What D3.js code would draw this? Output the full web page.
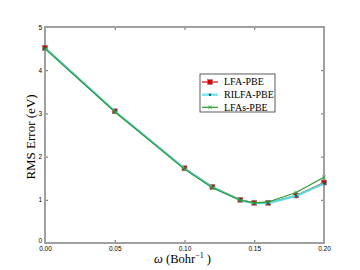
<!DOCTYPE html>
<html lang="en">
<head>
<meta charset="UTF-8">
<title>RMS Error</title>
<script src="https://cdnjs.cloudflare.com/ajax/libs/d3/7.8.5/d3.min.js"></script>
<style>
    body { margin: 0; background: #fff; }
    svg { display: block; font-family: "Liberation Serif", "DejaVu Serif", serif; }
</style>
</head>
<body>
<svg id="plot-svg"></svg>
<script>
// data
const omega = [0, 0.05, 0.10, 0.12, 0.14, 0.15, 0.16, 0.18, 0.20];
const lfa   = [4.52, 3.05, 1.73, 1.30, 1.00, 0.93, 0.93, 1.10, 1.40];
const rilfa = [4.51, 3.05, 1.72, 1.29, 0.99, 0.92, 0.92, 1.09, 1.38];
const lfas  = [4.50, 3.04, 1.71, 1.28, 0.99, 0.93, 0.95, 1.17, 1.52];
const xTicks = [0, 0.05, 0.10, 0.15, 0.20];
const yTicks = [0, 1, 2, 3, 4, 5];
const seriesNames = ["LFA-PBE", "RILFA-PBE", "LFAs-PBE"];

const W = 360, H = 270;
const margin = {left: 45, right: 36, top: 27, bottom: 27};
const width = W - margin.left - margin.right,
      height = H - margin.top - margin.bottom;

const svg = d3.select("#plot-svg").attr("width", W).attr("height", H);
const g = svg.append("g").attr("transform", `translate(${margin.left},${margin.top})`);

const x = d3.scaleLinear().domain([0, 0.2]).range([0, width]);
const y = d3.scaleLinear().domain([0, 5]).range([height, 0]);

// ticks pointing inwards on all four sides
const tickLen = 3;
g.append("g").attr("transform", `translate(0,${height})`)
    .call(d3.axisBottom(x).tickValues(xTicks).tickFormat(d3.format(".2f")).tickSize(-tickLen).tickPadding(3))
    .call(a => a.select(".domain").remove());
g.append("g")
    .call(d3.axisTop(x).tickValues(xTicks).tickFormat("").tickSize(-tickLen))
    .call(a => a.select(".domain").remove());
g.append("g").attr("class", "yaxis")
    .call(d3.axisLeft(y).tickValues(yTicks).tickFormat(d3.format("d")).tickSize(-tickLen).tickPadding(3))
    .call(a => a.select(".domain").remove());
g.append("g").attr("transform", `translate(${width},0)`)
    .call(d3.axisRight(y).tickValues(yTicks).tickFormat("").tickSize(-tickLen))
    .call(a => a.select(".domain").remove());
g.selectAll(".tick text").style("font-size", "6.5px").attr("fill", "#000");
g.selectAll(".tick line").attr("stroke", "#000").attr("stroke-width", 0.6);
// the "0" on y sits just above the "0.00" on x
g.selectAll(".yaxis .tick text").filter(d => d === 0).attr("dy", "-0.1em");

// frame
g.append("rect").attr("width", width).attr("height", height)
    .attr("fill", "none").attr("stroke", "#a0a0a0").attr("stroke-width", 2);

const line = d3.line().x((d, i) => x(omega[i])).y(d => y(d));

// LFA-PBE: red with squares
g.append("path").datum(lfa).attr("d", line)
    .attr("fill", "none").attr("stroke", "#e00000").attr("stroke-width", 1.2);
g.selectAll(".sq").data(lfa).enter().append("rect")
    .attr("x", (d, i) => x(omega[i]) - 2.5).attr("y", d => y(d) - 2.5)
    .attr("width", 5).attr("height", 5)
    .attr("fill", "#cc0000").attr("stroke", "#888").attr("stroke-width", 0.6);

// RILFA-PBE: thick cyan with dots
g.append("path").datum(rilfa).attr("d", line)
    .attr("fill", "none").attr("stroke", "#5fd8dc").attr("stroke-width", 2.2);
g.selectAll(".dot").data(rilfa).enter().append("circle")
    .attr("cx", (d, i) => x(omega[i])).attr("cy", d => y(d)).attr("r", 1.2)
    .attr("fill", "#1a5a5a");

// LFAs-PBE: green with x markers
g.append("path").datum(lfas).attr("d", line)
    .attr("fill", "none").attr("stroke", "#2a9a2a").attr("stroke-width", 1.2);
g.selectAll(".xm").data(lfas).enter().append("path")
    .attr("d", (d, i) => {
        const cx = x(omega[i]), cy = y(d), s = 1.8;
        return `M${cx - s},${cy - s}L${cx + s},${cy + s}M${cx - s},${cy + s}L${cx + s},${cy - s}`;
    })
    .attr("stroke", "#2a9a2a").attr("stroke-width", 0.8);

// legend
const leg = svg.append("g").attr("transform", "translate(200,74)");
leg.append("rect").attr("width", 75).attr("height", 38)
    .attr("fill", "#fff").attr("stroke", "#333").attr("stroke-width", 0.8);
const rowY = [8, 20.7, 33.3];
const lx0 = 2, lx1 = 18, lm = 10;
// row 1
leg.append("line").attr("x1", lx0).attr("x2", lx1).attr("y1", rowY[0]).attr("y2", rowY[0])
    .attr("stroke", "#e00000").attr("stroke-width", 1.2);
leg.append("rect").attr("x", lm - 2.5).attr("y", rowY[0] - 2.5).attr("width", 5).attr("height", 5)
    .attr("fill", "#e00000").attr("stroke", "#888").attr("stroke-width", 0.6);
// row 2
leg.append("line").attr("x1", lx0).attr("x2", lx1).attr("y1", rowY[1]).attr("y2", rowY[1])
    .attr("stroke", "#7fe6ea").attr("stroke-width", 2.5);
leg.append("circle").attr("cx", lm).attr("cy", rowY[1]).attr("r", 1.2).attr("fill", "#1a5a5a");
// row 3
leg.append("line").attr("x1", lx0).attr("x2", lx1).attr("y1", rowY[2]).attr("y2", rowY[2])
    .attr("stroke", "#2a9a2a").attr("stroke-width", 1.2);
leg.append("path")
    .attr("d", `M${lm - 1.8},${rowY[2] - 1.8}L${lm + 1.8},${rowY[2] + 1.8}M${lm - 1.8},${rowY[2] + 1.8}L${lm + 1.8},${rowY[2] - 1.8}`)
    .attr("stroke", "#2a9a2a").attr("stroke-width", 0.8);
leg.selectAll(".lt").data(seriesNames).enter().append("text")
    .attr("x", 24).attr("y", (d, i) => rowY[i] + 3.3)
    .style("font-size", "10px").text(d => d);

// axis labels
svg.append("text")
    .attr("transform", `translate(35,${margin.top + height / 2 + 2}) rotate(-90)`)
    .attr("text-anchor", "middle").style("font-size", "13px")
    .text("RMS Error (eV)");
const xl = svg.append("text")
    .attr("x", margin.left + width / 2 - 2).attr("y", 263)
    .attr("text-anchor", "middle").style("font-size", "12.5px");
xl.append("tspan").style("font-style", "italic").text("ω");
xl.append("tspan").text(" (Bohr");
xl.append("tspan").attr("dy", -5).style("font-size", "8px").text("−1");
xl.append("tspan").attr("dy", 5).text(" )");
</script>
</body>
</html>
